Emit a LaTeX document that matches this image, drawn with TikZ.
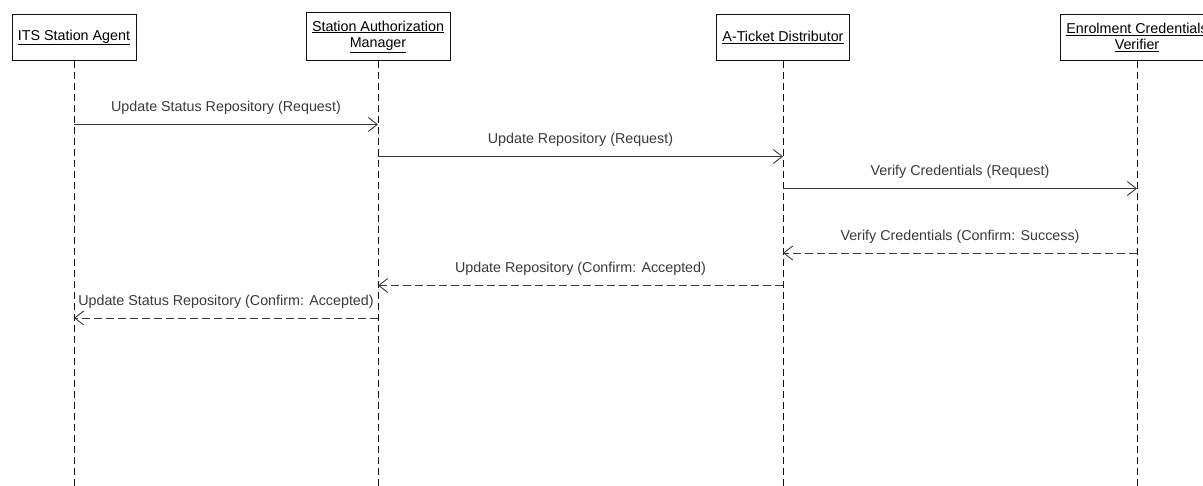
\documentclass[tikz,border=0pt]{standalone}
\usepackage{fontspec}
\setmainfont{Liberation Sans}
\definecolor{ink}{HTML}{111111}
\definecolor{wire}{HTML}{3A3A3A}
\usetikzlibrary{arrows.meta,positioning}

\begin{document}
\begin{tikzpicture}[x=1pt,y=-1pt,every node/.style={font=\fontsize{14.3}{16.5}\selectfont}]
\tikzstyle{actor}=[draw=ink,line width=0.9pt,fill=white,minimum height=46pt,inner xsep=6pt,inner ysep=8pt,align=center,anchor=south]
\tikzstyle{life}=[ink,line width=0.9pt,dash pattern=on 7pt off 4pt]
\tikzstyle{call}=[-{Straight Barb[length=9pt,width=14pt]},wire,line width=0.9pt]
\tikzstyle{reply}=[call,dash pattern=on 8pt off 4pt]
\tikzstyle{msg}=[anchor=base,yshift=12.5pt,inner sep=0pt]
\useasboundingbox (0,0) rectangle (1203,486);
% heads
\node[actor] (its) at (74,61) {\underline{ITS Station Agent}};
\node[actor] (sam) at (378,61) {\underline{Station Authorization}\\\underline{Manager}};
\node[actor] (atd) at (783,61) {\underline{A-Ticket Distributor}};
\node[actor] (ecv) at (1137,61) {\underline{Enrolment Credentials}\\\underline{Verifier}};
% lifelines
\coordinate (bottom) at (0,486);
\draw[life] (its.south) -- (its.south |- bottom);
\draw[life] (sam.south) -- (sam.south |- bottom);
\draw[life] (atd.south) -- (atd.south |- bottom);
\draw[life] (ecv.south) -- (ecv.south |- bottom);
% messages
\coordinate (y1) at (0,124.5);
\coordinate (y2) at (0,156.5);
\coordinate (y3) at (0,188.5);
\coordinate (y4) at (0,253);
\coordinate (y5) at (0,285.5);
\coordinate (y6) at (0,318);
\draw[call] (its |- y1) -- node[msg] (m1) {Update Status Repository (Request)} (sam |- y1);
\draw[call] (sam |- y2) -- node[msg] (m2) {Update Repository (Request)} (atd |- y2);
\draw[call] (atd |- y3) -- node[msg] (m3) {Verify Credentials (Request)} (ecv |- y3);
\draw[reply] (ecv |- y4) -- node[msg] (m4) {Verify Credentials (Confirm: Success)} (atd |- y4);
\draw[reply] (atd |- y5) -- node[msg] (m5) {Update Repository (Confirm: Accepted)} (sam |- y5);
\draw[reply] (sam |- y6) -- node[msg] (m6) {Update Status Repository (Confirm: Accepted)} (its |- y6);
\end{tikzpicture}
\end{document}
